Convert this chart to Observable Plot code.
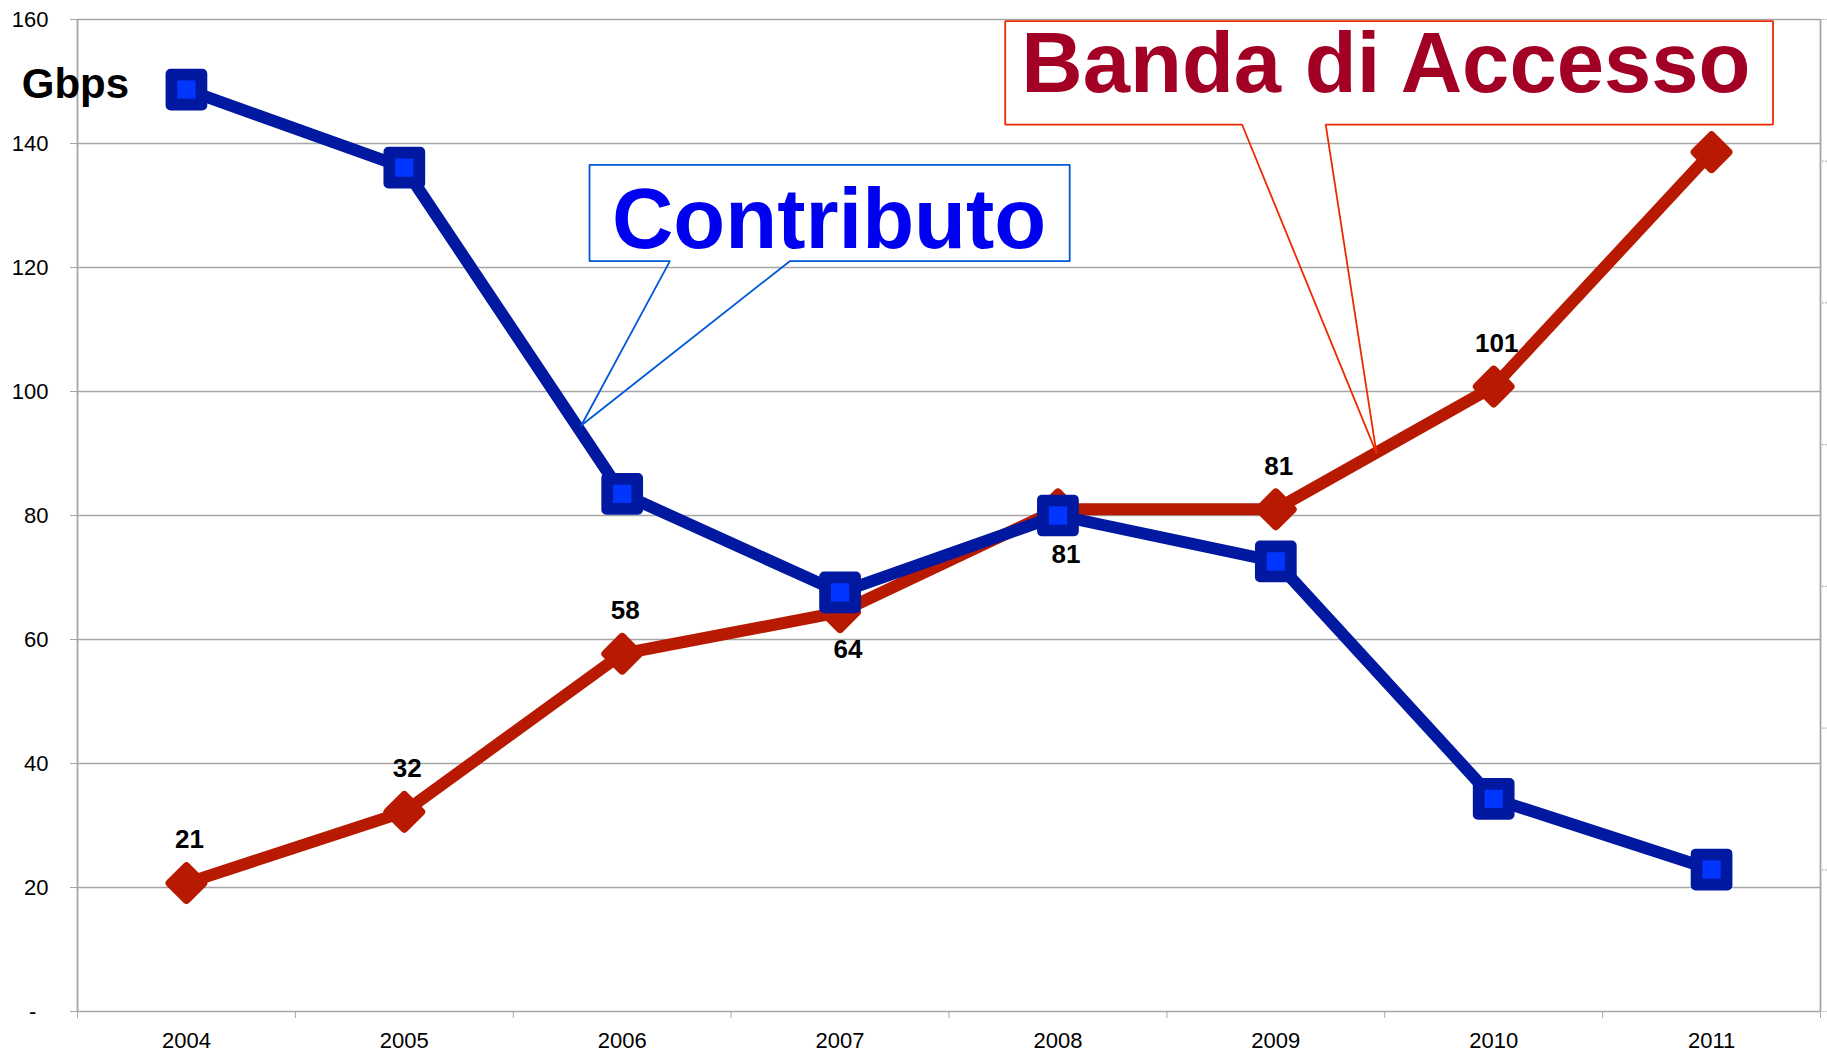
<!DOCTYPE html>
<html>
<head>
<meta charset="utf-8">
<script src="https://cdn.jsdelivr.net/npm/d3@7"></script>
<script src="https://cdn.jsdelivr.net/npm/@observablehq/plot@0.6"></script>
<style>
  html, body { margin: 0; padding: 0; background: #fff; }
  #chart svg { display: block; }
</style>
</head>
<body>
<div id="chart"></div>
<script>
// ---- data ----
const years = [2004, 2005, 2006, 2007, 2008, 2009, 2010, 2011];
const contributo = [148.7, 136.1, 83.5, 67.6, 80.0, 72.6, 34.3, 22.9];
const bandaAccesso = [20.7, 32.2, 57.7, 64.4, 81.0, 81.0, 100.8, 138.6];
const labeledYears = [2004, 2005, 2006, 2007, 2008, 2009, 2010];
const labelBelowYears = [2007, 2008];
const yTicks = [0, 20, 40, 60, 80, 100, 120, 140, 160];
const unitLabel = "Gbps";
const calloutContributo = "Contributo";
const calloutBanda = "Banda di Accesso";

// callout outlines in data space (year, Gbps)
const contributoShape = [
  [2005.812, 94.52], [2006.219, 121.02], [2005.85, 121.02], [2005.85, 136.56],
  [2008.054, 136.56], [2008.054, 121.02], [2006.769, 121.02], [2005.812, 94.52]
];
const bandaShape = [
  [2009.462, 90.05], [2008.845, 143.06], [2007.758, 143.06], [2007.758, 159.73],
  [2011.282, 159.73], [2011.282, 143.06], [2009.229, 143.06], [2009.462, 90.05]
];
const contributoTextAt = [2005.953, 123.18];
const bandaTextAt = [2007.832, 148.27];
const unitTextAt = [2003.244, 147.4];

// ---- derived tables ----
const blue = years.map((year, i) => ({year, value: contributo[i]}));
const red = years.map((year, i) => ({year, value: bandaAccesso[i]}));
const labelsAbove = red.filter(d => labeledYears.includes(d.year) && !labelBelowYears.includes(d.year));
const labelBelowA = red.filter(d => d.year === labelBelowYears[0]);
const labelBelowB = red.filter(d => d.year === labelBelowYears[1]);
const bandEdges = [...years.map(y => y - 0.5), years[years.length - 1] + 0.5];
const secondaryTicks = d3.range(8).map(k => 160 * k / 7);
const toPts = s => s.map(([x, y]) => ({x, y}));

const grid = "#a6a6a6";
const darkBlue = "#0019a0";
const brightBlue = "#0036ff";
const redLine = "#b71a00";
const fmt = d3.format(".0f");
const labelStyle = {x: "year", y: "value", text: d => fmt(d.value), fontSize: 26, fontWeight: "bold", fill: "#000"};

const chart = Plot.plot({
  width: 1827,
  height: 1053,
  marginLeft: 77,
  marginRight: 7,
  marginTop: 19,
  marginBottom: 42,
  style: {fontFamily: "'Liberation Sans', Arial, sans-serif", fontSize: "22px", background: "#fff", color: "#000", overflow: "visible"},
  x: {domain: [2003.5, 2011.5]},
  y: {domain: [0, 160]},
  marks: [
    Plot.ruleY(yTicks, {stroke: grid, strokeWidth: 1.6}),
    Plot.ruleX([bandEdges[0], bandEdges[bandEdges.length - 1]], {stroke: grid, strokeWidth: 1.8}),
    Plot.ruleY(secondaryTicks, {x1: 2011.5 + 2 / 217.875, x2: 2011.5 + 7 / 217.875, stroke: grid, strokeWidth: 1.2, strokeDasharray: "1.5,1.5"}),
    Plot.axisY(yTicks, {tickSize: 7, tickPadding: 22, tickFormat: d => d === 0 ? "-\u00a0\u00a0" : String(d), fontSize: 22, stroke: grid, fill: "#000", label: null}),
    Plot.axisX(years, {tickSize: 0, tickPadding: 21, tickFormat: d => String(d), fontSize: 22, fill: "#000", label: null}),
    Plot.axisX(bandEdges, {tickSize: 7, tickFormat: () => "", stroke: grid, label: null}),

    // Banda di Accesso series
    Plot.line(red, {x: "year", y: "value", stroke: redLine, strokeWidth: 12, strokeLinejoin: "round"}),
    Plot.dot(red, {x: "year", y: "value", symbol: "diamond2", r: 15.2, fill: redLine, stroke: redLine, strokeWidth: 8, strokeLinejoin: "round"}),

    // Contributo series
    Plot.line(blue, {x: "year", y: "value", stroke: darkBlue, strokeWidth: 12, strokeLinejoin: "round"}),
    Plot.dot(blue, {x: "year", y: "value", symbol: "square", r: 17.9, fill: darkBlue, stroke: darkBlue, strokeWidth: 10, strokeLinejoin: "round"}),
    Plot.dot(blue, {x: "year", y: "value", symbol: "square", r: 10.3, fill: brightBlue}),

    // value labels
    Plot.text(labelsAbove, {...labelStyle, dx: 3, dy: -43}),
    Plot.text(labelBelowA, {...labelStyle, dx: 8, dy: 37.5}),
    Plot.text(labelBelowB, {...labelStyle, dx: 8, dy: 45.5}),

    // callouts
    Plot.line(toPts(contributoShape), {x: "x", y: "y", stroke: "#0058d8", strokeWidth: 1.8, strokeLinejoin: "miter"}),
    Plot.text([contributoTextAt], {x: d => d[0], y: d => d[1], text: () => calloutContributo, textAnchor: "start", lineAnchor: "bottom", fontSize: 85, fontWeight: "bold", fill: "#0000f0"}),
    Plot.line(toPts(bandaShape), {x: "x", y: "y", stroke: "#ee2a00", strokeWidth: 1.8, strokeLinejoin: "miter"}),
    Plot.text([bandaTextAt], {x: d => d[0], y: d => d[1], text: () => calloutBanda, textAnchor: "start", lineAnchor: "bottom", fontSize: 85, fontWeight: "bold", fill: "#a30026"}),

    // unit label
    Plot.text([unitTextAt], {x: d => d[0], y: d => d[1], text: () => unitLabel, textAnchor: "start", lineAnchor: "bottom", fontSize: 42, fontWeight: "bold", fill: "#000"})
  ]
});

document.getElementById("chart").appendChild(chart);
</script>
</body>
</html>
